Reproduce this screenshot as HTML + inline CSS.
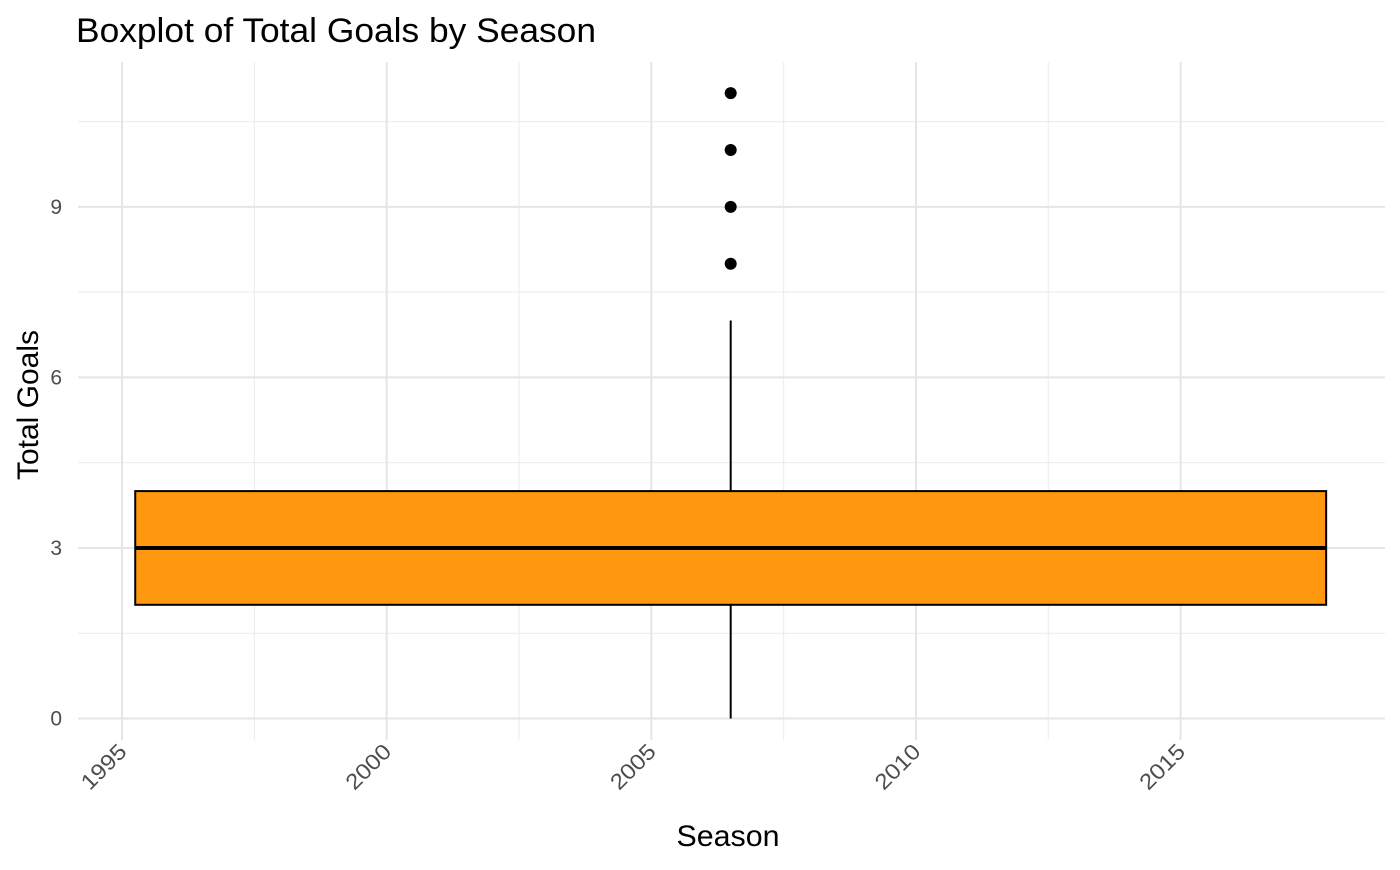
<!DOCTYPE html>
<html><head><meta charset="utf-8"><style>
body{margin:0;background:#fff}
svg{font-family:"Liberation Sans",Arial,sans-serif}
</style></head><body>
<svg width="1400" height="865" viewBox="0 0 1400 865">
<g id="grid"></g>
<g id="marks"></g>
<g id="axes"></g>
<text x="76" y="42" font-size="34" textLength="520" lengthAdjust="spacingAndGlyphs" fill="#000">Boxplot of Total Goals by Season</text>
<text x="728" y="846" font-size="30" textLength="103" lengthAdjust="spacingAndGlyphs" text-anchor="middle" fill="#000">Season</text>
<text transform="translate(38,405) rotate(-90)" font-size="30" textLength="150" lengthAdjust="spacingAndGlyphs" text-anchor="middle" fill="#000">Total Goals</text>
</svg>
<script>
const xTicks=[1995,2000,2005,2010,2015];
const yTicks=[0,3,6,9];
const boxCenter=[2006.5];
const boxWidthYears=[22.5];
const boxStats=[0,2,3,4,7]; // min,q1,median,q3,max
const outliers=[8,9,10,11];
const NS="http://www.w3.org/2000/svg";
const X=v=>122+(v-1995)*52.93;
const Y=v=>718.5-v*56.85;
const L=78,R=1385,T=62,B=740;
function mk(tag,attrs,parent){const e=document.createElementNS(NS,tag);for(const k in attrs)e.setAttribute(k,attrs[k]);document.getElementById(parent).appendChild(e);return e;}
for(let i=0;i<xTicks.length-1;i++){const v=(xTicks[i]+xTicks[i+1])/2;
const e=mk('line',{x1:X(v),x2:X(v),y1:T,y2:B,stroke:'#ebebeb','stroke-width':1},'grid');
}
for(let i=0;i<yTicks.length;i++){const v=yTicks[i]+1.5;
const e=mk('line',{x1:L,x2:R,y1:Y(v),y2:Y(v),stroke:'#ebebeb','stroke-width':1},'grid');
}
xTicks.forEach(v=>{const e=mk('line',{x1:X(v),x2:X(v),y1:T,y2:B,stroke:'#e5e5e5','stroke-width':2},'grid');

const t=mk('text',{transform:`translate(${X(v)+6},${B+13}) rotate(-45)`,'text-anchor':'end','font-size':22,textLength:54,lengthAdjust:'spacingAndGlyphs',fill:'#4d4d4d'},'axes');
t.textContent=v;});
yTicks.forEach(v=>{const e=mk('line',{x1:L,x2:R,y1:Y(v),y2:Y(v),stroke:'#e5e5e5','stroke-width':2},'grid');

const t=mk('text',{x:62,y:Y(v)+7,'text-anchor':'end','font-size':21,fill:'#4d4d4d'},'axes');
t.textContent=v;});
const c=boxCenter[0],hw=boxWidthYears[0]/2;
const w1=mk('line',{x1:X(c),x2:X(c),y1:Y(boxStats[0]),y2:Y(boxStats[1]),stroke:'#000','stroke-width':2},'marks');

const w2=mk('line',{x1:X(c),x2:X(c),y1:Y(boxStats[3]),y2:Y(boxStats[4]),stroke:'#000','stroke-width':2},'marks');

const b=mk('rect',{x:X(c-hw),y:Y(boxStats[3]),width:X(c+hw)-X(c-hw),height:Y(boxStats[1])-Y(boxStats[3]),fill:'#ff980e',stroke:'#000','stroke-width':2},'marks');

const m=mk('line',{x1:X(c-hw),x2:X(c+hw),y1:Y(boxStats[2]),y2:Y(boxStats[2]),stroke:'#000','stroke-width':4},'marks');

outliers.forEach(v=>{const p=mk('circle',{cx:X(c),cy:Y(v),r:6,fill:'#000'},'marks');
});
</script>
</body></html>
